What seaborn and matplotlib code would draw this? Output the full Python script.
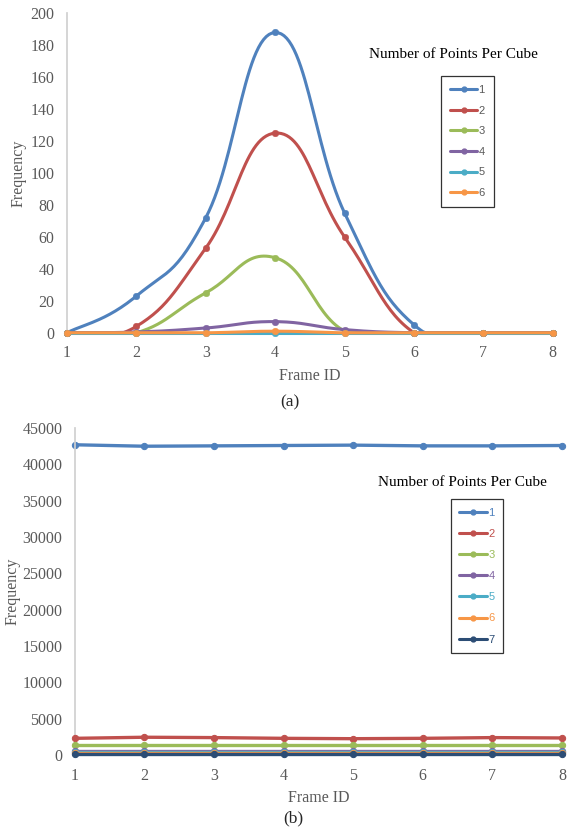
from matplotlib import pyplot as plt
from matplotlib.lines import Line2D
import pandas as pd
import seaborn as sns
import numpy as np

frames = [1, 2, 3, 4, 5, 6, 7, 8]

# (a) frequency per frame, points-per-cube 1..6
a_1 = [0, 23, 72, 188, 75, 5, 0, 0]
a_2 = [0, 4, 53, 125, 60, 0, 0, 0]
a_3 = [0, 0, 25, 47, 1, 0, 0, 0]
a_4 = [0, 0.5, 3, 7, 2, 0, 0, 0]
a_5 = [0, 0, 0, 0, 0, 0, 0, 0]
a_6 = [0, 0, 0, 1, 0, 0, 0, 0]

# (b) frequency per frame, points-per-cube 1..7
b_1 = [42700, 42500, 42550, 42600, 42650, 42550, 42550, 42600]
b_2 = [2300, 2450, 2400, 2300, 2250, 2300, 2400, 2350]
b_3 = [1450, 1450, 1450, 1450, 1450, 1450, 1450, 1450]
b_4 = [600, 600, 600, 600, 600, 600, 600, 600]
b_5 = [400, 400, 400, 400, 400, 400, 400, 400]
b_6 = [250, 250, 250, 250, 250, 250, 250, 250]
b_7 = [100, 100, 100, 100, 100, 100, 100, 100]

colors = ["#4F81BD", "#C0504D", "#9BBB59", "#8064A2", "#4BACC6", "#F79646", "#2C4D75"]
SERIF = "Liberation Serif"
SANS = "Liberation Sans"
GRAY = "#595959"


def smooth(x, y, n=30, k=4.5):
    # excel-like smoothed line (bezier through the points)
    x = np.asarray(x, float)
    y = np.asarray(y, float)
    px = np.concatenate([[x[0]], x, [x[-1]]])
    py = np.concatenate([[y[0]], y, [y[-1]]])
    xs, ys = [], []
    t = np.linspace(0, 1, n)
    for i in range(1, len(px) - 2):
        p0 = np.array([px[i], py[i]])
        p3 = np.array([px[i + 1], py[i + 1]])
        c1 = p0 + (p3 - np.array([px[i - 1], py[i - 1]])) / k
        c2 = p3 - (np.array([px[i + 2], py[i + 2]]) - p0) / k
        b = ((1 - t) ** 3)[:, None] * p0 + (3 * (1 - t) ** 2 * t)[:, None] * c1 \
            + (3 * (1 - t) * t ** 2)[:, None] * c2 + (t ** 3)[:, None] * p3
        xs.append(b[:, 0])
        ys.append(b[:, 1])
    return np.concatenate(xs), np.concatenate(ys)


def style_axes(ax, ymax, ystep, ypad):
    ax.set_xlim(1, 8)
    ax.set_ylim(0, ymax)
    ax.set_xticks(frames)
    ax.set_yticks(np.arange(0, ymax + 1, ystep))
    for s in ["top", "right"]:
        ax.spines[s].set_visible(False)
    ax.spines["left"].set_color("#d0d0d0")
    ax.spines["bottom"].set_color("#d0d0d0")
    ax.tick_params(length=0, labelsize=11.5, labelcolor=GRAY, pad=9)
    for lab in ax.get_xticklabels() + ax.get_yticklabels():
        lab.set_fontfamily(SERIF)
    ax.set_xlabel("Frame ID", fontfamily=SERIF, fontsize=11.5, color=GRAY, labelpad=5)
    ax.set_ylabel("Frequency", fontfamily=SERIF, fontsize=11.5, color=GRAY, labelpad=ypad)
    ax.grid(False)


def add_legend(ax, n, title_xy, loc_xy, colored, spacing):
    handles = [Line2D([0], [0], color=colors[i], lw=2.2, marker="o", markersize=3.5)
               for i in range(n)]
    leg = ax.legend(handles, [str(i + 1) for i in range(n)], loc="upper left",
                    bbox_to_anchor=loc_xy, frameon=True, fancybox=False,
                    prop={"family": SANS, "size": 8}, handlelength=2.5,
                    handletextpad=0.1, labelspacing=spacing, borderpad=0.8)
    leg.get_frame().set_edgecolor("black")
    leg.get_frame().set_linewidth(0.9)
    for i, t in enumerate(leg.get_texts()):
        t.set_color(colors[i] if colored else GRAY)
    ax.text(title_xy[0], title_xy[1], "Number of Points Per Cube", transform=ax.transAxes,
            ha="center", va="center", fontfamily=SERIF, fontsize=11, color="black")


sns.set_theme(style="white")
fig = plt.figure(figsize=(5.67, 8.32), dpi=100)
ax1 = fig.add_axes([0.118, 0.600, 0.857, 0.384])
ax2 = fig.add_axes([0.132, 0.0925, 0.859, 0.393])

# panel (a)
for i, vals in enumerate([a_1, a_2, a_3, a_4, a_5, a_6]):
    sx, sy = smooth(frames, vals)
    sy = np.clip(sy, 0, None)
    sns.lineplot(x=sx, y=sy, color=colors[i], lw=2.2, ax=ax1, sort=False,
                 estimator=None, clip_on=False, zorder=2 + i)
    sns.scatterplot(x=frames, y=vals, color=colors[i], s=22, edgecolor=colors[i],
                    ax=ax1, clip_on=False, zorder=2 + i)
style_axes(ax1, 200, 20, 3)
add_legend(ax1, 6, (0.795, 0.87), (0.758, 0.82), colored=False, spacing=0.95)

# panel (b)
for i, vals in enumerate([b_1, b_2, b_3, b_4, b_5, b_6, b_7]):
    sns.lineplot(x=frames, y=vals, color=colors[i], lw=2.4, ax=ax2,
                 marker="o", markersize=4.5, markeredgecolor=colors[i],
                 clip_on=False, zorder=2 + i)
style_axes(ax2, 45000, 5000, 1)
add_legend(ax2, 7, (0.795, 0.835), (0.76, 0.80), colored=True, spacing=1.0)

fig.text(290 / 567, 1 - 402 / 832, "(a)", ha="center", va="center",
         fontfamily=SERIF, fontsize=12.5)
fig.text(293 / 567, 1 - 818 / 832, "(b)", ha="center", va="center",
         fontfamily=SERIF, fontsize=12.5)

plt.savefig("out.png", dpi=100)
